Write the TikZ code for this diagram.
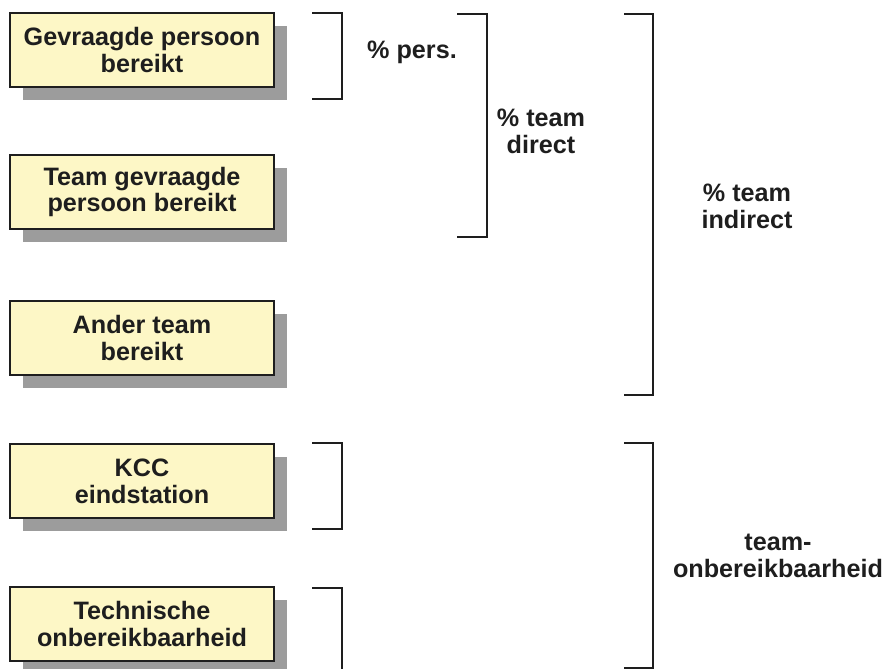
\documentclass[tikz,border=0pt]{standalone}
\usepackage{fontspec}
\setmainfont{Liberation Sans}
\usepackage{tikz}
\usetikzlibrary{shadows}

\definecolor{boxyellow}{HTML}{FDF7C6}
\definecolor{shadowgray}{HTML}{9C9C9C}
\definecolor{inkgray}{HTML}{1E1E1E}

\begin{document}
\begin{tikzpicture}[
  x=0.03cm,
  y=-0.03cm
]

  \tikzstyle{stepbox}=[draw=inkgray,rectangle,fill=boxyellow,line width=1.7pt,minimum height=2.22cm,minimum width=7.92cm,inner sep=1mm,align=center,text=inkgray,font=\bfseries\fontsize{21.5}{23}\selectfont,drop shadow={shadow xshift=0.39cm,shadow yshift=-0.39cm,fill=shadowgray,opacity=1}]
  \tikzstyle{bracket}=[draw=inkgray,line width=2pt]
  \tikzstyle{pctlab}=[align=center,text=inkgray,font=\bfseries\fontsize{21.5}{23}\selectfont]

  \useasboundingbox (0,0) rectangle (886,669);

  % nodes
  \node[stepbox] (pers)   at (142,50)  {Gevraagde persoon\\bereikt};
  \node[stepbox] (team)   at (142,192) {Team gevraagde\\persoon bereikt};
  \node[stepbox] (ander)  at (142,338) {Ander team\\bereikt};
  \node[stepbox] (kcc)    at (142,481) {KCC\\eindstation};
  \node[stepbox] (techn)  at (142,624) {Technische\\onbereikbaarheid};

  % brackets
  \draw[bracket] (312,13)  -| (342,99)  -- (312,99);
  \draw[bracket] (457,14)  -| (487,237) -- (457,237);
  \draw[bracket] (624,14)  -| (653,395) -- (624,395);
  \draw[bracket] (312,443) -| (342,529) -- (312,529);
  \draw[bracket] (312,588) -| (342,700);
  \draw[bracket] (624,443) -| (653,668) -- (624,668);

  % labels
  \node[pctlab] (lpers)     at (412,52)  {\% pers.};
  \node[pctlab] (ldirect)   at (541,131) {\% team\\direct};
  \node[pctlab] (lindirect) at (747,206) {\% team\\indirect};
  \node[pctlab] (lonbereik) at (778,556) {team-\\onbereikbaarheid};

\end{tikzpicture}
\end{document}
